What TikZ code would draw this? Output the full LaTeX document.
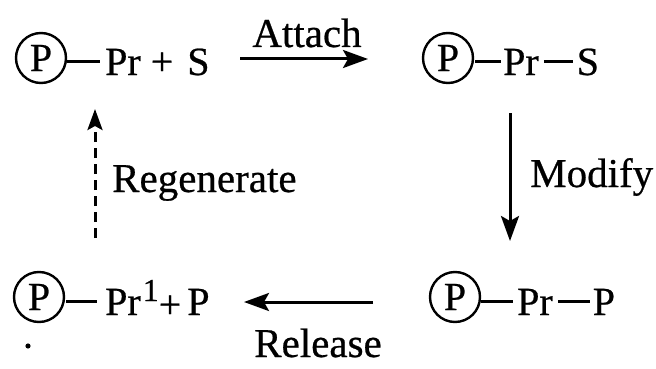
\documentclass[tikz,border=0pt]{standalone}
\usepackage{fontspec}
\setmainfont[FakeBold=0.6]{Liberation Serif}
\usetikzlibrary{arrows.meta}
\newcommand\bnd[1]{\rule[12.5pt]{#1}{2.6pt}}
\begin{document}
\begin{tikzpicture}[x=1pt,y=-1pt,
  txt/.style={font=\fontsize{40}{40}\selectfont, inner sep=0pt, anchor=base west},
  lbl/.style={font=\fontsize{41}{41}\selectfont, inner sep=0pt},
  pc/.style={circle, draw, line width=2.4pt, minimum size=50pt, inner sep=0pt,
             font=\fontsize{40}{40}\selectfont},
  arr/.style={line width=3pt, -{Stealth[length=25pt,width=18pt,inset=5pt]}},
  darr/.style={line width=3pt, dash pattern=on 10pt off 6pt,
               -{Stealth[length=21pt,width=15pt,inset=4pt]}}]
\useasboundingbox (0,0) rectangle (656,369);
% top left
\node[pc] (c1) at (41,58) {P};
\node[txt] (t1) at (67,75) {\bnd{33pt}\hspace{5pt}Pr\hspace{10pt}+\hspace{14pt}S};
% top right
\node[pc] (c2) at (448,58) {P};
\node[txt] (t2) at (475,75) {\bnd{26pt}\hspace{2pt}Pr\hspace{5pt}\bnd{29pt}\hspace{4pt}S};
% bottom left
\node[pc] (c3) at (39,297) {P};
\node[txt] (t3) at (66,315) {\bnd{31pt}\hspace{8pt}Pr\hspace{2pt}\raisebox{14pt}{\fontsize{32}{32}\selectfont 1}\raisebox{-3pt}{+}\hspace{6pt}P};
% bottom right
\node[pc] (c4) at (455,297) {P};
\node[txt] (t4) at (481,315) {\bnd{32pt}\hspace{4pt}Pr\hspace{5pt}\bnd{32pt}\hspace{3pt}P};
% arrows
\coordinate (a1) at (240,59); \coordinate (a2) at (368,59);
\draw[arr] (a1) -- (a2);
\node[lbl, anchor=base] (la) at (307,47) {Attach};
\coordinate (m1) at (510,113); \coordinate (m2) at (510,241);
\draw[arr] (m1) -- (m2);
\node[lbl, anchor=base west] (lm) at (530,187) {Modify};
\coordinate (r1) at (373,302); \coordinate (r2) at (244,302);
\draw[arr] (r1) -- (r2);
\node[lbl, anchor=base] (lr) at (318,357) {Release};
\coordinate (g1) at (95,238); \coordinate (g2) at (95,109);
\draw[darr] (g1) -- (g2);
\node[lbl, anchor=base west] (lg) at (112,192) {Regenerate};
\fill (28,346) circle (2.6pt);
\end{tikzpicture}
\end{document}
